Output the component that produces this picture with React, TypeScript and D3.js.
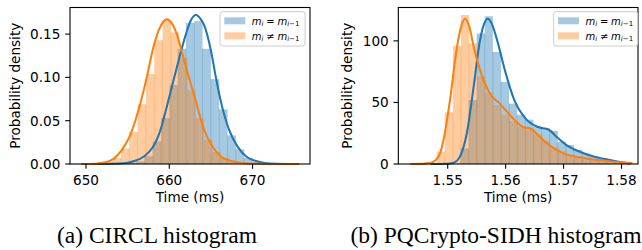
import React from 'react';
import * as d3 from 'd3';

const BLUE = '#1f77b4';
const ORANGE = '#ff7f0e';

// ---------------- CIRCL panel data ----------------
const circlXTicks = [650, 660, 670];
const circlYTicks = [0, 0.05, 0.1, 0.15];
const circlXDomain = [648.08, 676.9];
const circlYDomain = [0, 0.1807];
const circlBinWidth = 1.0;
const circlSameBinStart = 655.0;
const circlSameDensity = [0.001, 0.003, 0.009, 0.026, 0.053, 0.091, 0.133, 0.163, 0.165, 0.133, 0.098, 0.063, 0.033, 0.017, 0.007, 0.002, 0.001];
const circlDiffBinStart = 652.2;
const circlDiffDensity = [0.003, 0.007, 0.018, 0.037, 0.069, 0.104, 0.143, 0.166, 0.152, 0.122, 0.085, 0.053, 0.028, 0.014, 0.007, 0.002];
const circlSameKdeX = [649.4, 652, 654, 655, 656, 657, 658, 658.4, 659, 659.4, 660.2, 661, 662, 662.6, 663.2, 663.8, 664.2, 665, 665.6, 666.2, 667.2, 668.2, 669.2, 670.2, 671.5, 673, 675.6];
const circlSameKdeY = [0, 0.0001, 0.0005, 0.0015, 0.004, 0.009, 0.019, 0.026, 0.041, 0.055, 0.085, 0.115, 0.150, 0.166, 0.172, 0.167, 0.160, 0.131, 0.100, 0.072, 0.039, 0.020, 0.009, 0.004, 0.0012, 0.0003, 0];
const circlDiffKdeX = [649.4, 651, 652, 652.3, 653.3, 654.3, 655.3, 656.3, 657.3, 658.1, 659, 659.7, 660.4, 661, 661.5, 662, 662.6, 663.2, 664.2, 665.2, 666.2, 667.2, 668.5, 670, 672, 675.6];
const circlDiffKdeY = [0, 0.0003, 0.0015, 0.002, 0.006, 0.016, 0.033, 0.062, 0.100, 0.135, 0.160, 0.167, 0.161, 0.147, 0.130, 0.112, 0.092, 0.072, 0.039, 0.020, 0.0085, 0.004, 0.0015, 0.0005, 0.0001, 0];

// ---------------- PQCrypto-SIDH panel data ----------------
const sidhXTicks = [1.55, 1.56, 1.57, 1.58];
const sidhYTicks = [0, 50, 100];
const sidhXDomain = [1.54147, 1.58285];
const sidhYDomain = [0, 127.1];
const sidhBinWidth = 0.0014;
const sidhSameBinStart = 1.5522;
const sidhSameDensity = [12.7, 52, 106, 120, 91, 66.7, 49, 40, 36, 30, 29, 27, 18, 15.4, 11.4, 8.6, 6, 4, 3, 2, 1];
const sidhDiffBinStart = 1.5481;
const sidhDiffDensity = [10, 42, 96, 121, 98, 71, 58, 48, 40, 35, 30, 28, 24, 19, 14, 10.5, 7.5, 5.5, 4, 3, 2, 1.5, 1];
const sidhSameKdeX = [1.547, 1.55, 1.551, 1.5521, 1.5533, 1.5544, 1.5556, 1.5563, 1.5569, 1.5576, 1.5585, 1.56, 1.5614, 1.5636, 1.5656, 1.5674, 1.5688, 1.5705, 1.5728, 1.5757, 1.5786, 1.58, 1.5815];
const sidhSameKdeY = [0, 0.2, 1, 6, 25, 60, 101, 114, 118, 114, 101, 74, 53, 36, 30, 28, 22, 15.4, 10, 5.4, 2.7, 1.5, 0.3];
const sidhDiffKdeX = [1.5435, 1.5455, 1.5465, 1.5476, 1.5487, 1.5495, 1.5504, 1.5516, 1.5524, 1.553, 1.5537, 1.5545, 1.5556, 1.5573, 1.559, 1.5613, 1.563, 1.5642, 1.5656, 1.5671, 1.57, 1.5728, 1.5757, 1.5786, 1.58, 1.5819];
const sidhDiffKdeY = [0, 0.1, 0.5, 2, 9, 25, 52, 95, 113, 118, 112, 95, 76, 57, 49, 37, 30, 29, 23.5, 16.8, 8.6, 5.4, 3.2, 1.9, 1.3, 0.6];

const xLabel = 'Time (ms)';
const yLabel = 'Probability density';
const captions = ['(a) CIRCL histogram', '(b) PQCrypto-SIDH histogram'];

const FONT = 'DejaVu Sans';
const FS = 13.6;
const TICK = 4.8;
const PAD = 4.8;

type Series = {
  start: number;
  width: number;
  heights: number[];
  kdeX: number[];
  kdeY: number[];
  color: string;
};

function MathLabel({ x, y, neq }: { x: number; y: number; neq: boolean }) {
  return (
    <text x={x} y={y} fontFamily={FONT} fontSize={10} fill="#000">
      <tspan fontStyle="italic">m</tspan>
      <tspan fontStyle="italic" fontSize={7} dy={1.8}>i</tspan>
      <tspan dy={-1.8} dx={2.8}>{neq ? '\u2260' : '='}</tspan>
      <tspan dx={2.8} fontStyle="italic">m</tspan>
      <tspan fontSize={7} dy={1.8}>
        <tspan fontStyle="italic">i</tspan>
        {'\u22121'}
      </tspan>
    </text>
  );
}

function Panel(props: {
  l: number; t: number; r: number; b: number;
  xDomain: number[]; yDomain: number[];
  xTicks: number[]; yTicks: number[];
  xFmt: (v: number) => string; yFmt: (v: number) => string;
  series: Series[];
  legendX: number; legendW: number;
  ylabelX: number;
}) {
  const { l, t, r, b, series } = props;
  const x = d3.scaleLinear().domain(props.xDomain).range([l, r]);
  const y = d3.scaleLinear().domain(props.yDomain).range([b, t]);
  const line = d3
    .line<[number, number]>()
    .x((d) => x(d[0]))
    .y((d) => y(d[1]))
    .curve(d3.curveMonotoneX);

  const hists: React.ReactNode[] = [];
  const lines: React.ReactNode[] = [];
  series.forEach((s, si) => {
    const bars = s.heights.map((h, i) => {
      const x0 = s.start + i * s.width;
      const x1 = x0 + s.width;
      return (
        <rect
          key={`b${si}-${i}`}
          x={x(x0)}
          y={y(h)}
          width={x(x1) - x(x0)}
          height={y(0) - y(h)}
          fill={s.color}
          fillOpacity={0.4}
        />
      );
    });
    const edges = s.heights.slice(1).map((h, k) => {
      const i = k + 1;
      const xe = s.start + i * s.width;
      const hm = Math.min(h, s.heights[i - 1]);
      return (
        <line
          key={`e${si}-${i}`}
          x1={x(xe)}
          x2={x(xe)}
          y1={y(hm)}
          y2={y(0)}
          stroke={s.color}
          strokeOpacity={0.3}
          strokeWidth={0.9}
        />
      );
    });
    const pts = s.kdeX.map((v, i) => [v, s.kdeY[i]] as [number, number]);
    hists.push(<g key={`h${si}`}>{bars}{edges}</g>);
    lines.push(
      <path key={`k${si}`} d={line(pts) || ''} fill="none" stroke={s.color} strokeWidth={2.05} strokeLinejoin="round" />
    );
  });

  const lgTop = t + 4.2;
  const lgH = 34.3;
  const lx = props.legendX;

  return (
    <g>
      {hists}
      {lines}
      {/* spines */}
      <rect x={l} y={t} width={r - l} height={b - t} fill="none" stroke="#000" strokeWidth={1.09} />
      {/* x ticks */}
      {props.xTicks.map((v) => (
        <g key={`xt${v}`}>
          <line x1={x(v)} x2={x(v)} y1={b} y2={b + TICK} stroke="#000" strokeWidth={1.09} />
          <text x={x(v)} y={185} textAnchor="middle" fontFamily={FONT} fontSize={FS} fill="#000">
            {props.xFmt(v)}
          </text>
        </g>
      ))}
      {/* y ticks */}
      {props.yTicks.map((v) => (
        <g key={`yt${v}`}>
          <line x1={l - TICK} x2={l} y1={y(v)} y2={y(v)} stroke="#000" strokeWidth={1.09} />
          <text x={l - TICK - PAD} y={y(v) + 4.95} textAnchor="end" fontFamily={FONT} fontSize={FS} fill="#000">
            {props.yFmt(v)}
          </text>
        </g>
      ))}
      <text x={(l + r) / 2} y={202} textAnchor="middle" fontFamily={FONT} fontSize={FS} fill="#000">
        {xLabel}
      </text>
      <text
        transform={`translate(${props.ylabelX},${(t + b) / 2}) rotate(-90)`}
        textAnchor="middle"
        fontFamily={FONT}
        fontSize={FS}
        fill="#000"
      >
        {yLabel}
      </text>
      {/* legend */}
      <rect x={lx} y={lgTop} width={props.legendW} height={lgH} rx={2.5} fill="#fff" fillOpacity={0.8} stroke="#cccccc" strokeWidth={1} />
      <rect x={lx + 4.3} y={lgTop + 5.6} width={21} height={7} fill={series[0].color} fillOpacity={0.4} />
      <rect x={lx + 4.3} y={lgTop + 20.6} width={21} height={7} fill={series[1].color} fillOpacity={0.4} />
      <MathLabel x={lx + 31.7} y={lgTop + 12.8} neq={false} />
      <MathLabel x={lx + 31.7} y={lgTop + 27.8} neq={true} />
    </g>
  );
}

export default function App() {
  const fmt2 = d3.format('.2f');
  const fmt0 = d3.format('d');
  return (
    <svg
      width={642}
      height={250}
      viewBox="0 0 642 250"
      style={{ position: 'absolute', left: 0, top: 0, background: '#fff' }}
    >
      <rect x={0} y={0} width={642} height={250} fill="#fff" />
      <Panel
        l={70} t={7.5} r={310} b={164}
        xDomain={circlXDomain} yDomain={circlYDomain}
        xTicks={circlXTicks} yTicks={circlYTicks}
        xFmt={fmt0} yFmt={fmt2}
        series={[
          { start: circlSameBinStart, width: circlBinWidth, heights: circlSameDensity, kdeX: circlSameKdeX, kdeY: circlSameKdeY, color: BLUE },
          { start: circlDiffBinStart, width: circlBinWidth, heights: circlDiffDensity, kdeX: circlDiffKdeX, kdeY: circlDiffKdeY, color: ORANGE },
        ]}
        legendX={220} legendW={85}
        ylabelX={19.5}
      />
      <Panel
        l={398.3} t={7.5} r={638} b={164}
        xDomain={sidhXDomain} yDomain={sidhYDomain}
        xTicks={sidhXTicks} yTicks={sidhYTicks}
        xFmt={fmt2} yFmt={fmt0}
        series={[
          { start: sidhSameBinStart, width: sidhBinWidth, heights: sidhSameDensity, kdeX: sidhSameKdeX, kdeY: sidhSameKdeY, color: BLUE },
          { start: sidhDiffBinStart, width: sidhBinWidth, heights: sidhDiffDensity, kdeX: sidhDiffKdeX, kdeY: sidhDiffKdeY, color: ORANGE },
        ]}
        legendX={553.7} legendW={84}
        ylabelX={352}
      />
      <text x={157} y={243} textAnchor="middle" fontFamily="Liberation Serif" fontSize={23.5} fill="#000">
        {captions[0]}
      </text>
      <text x={496} y={243} textAnchor="middle" fontFamily="Liberation Serif" fontSize={23.5} fill="#000">
        {captions[1]}
      </text>
    </svg>
  );
}
